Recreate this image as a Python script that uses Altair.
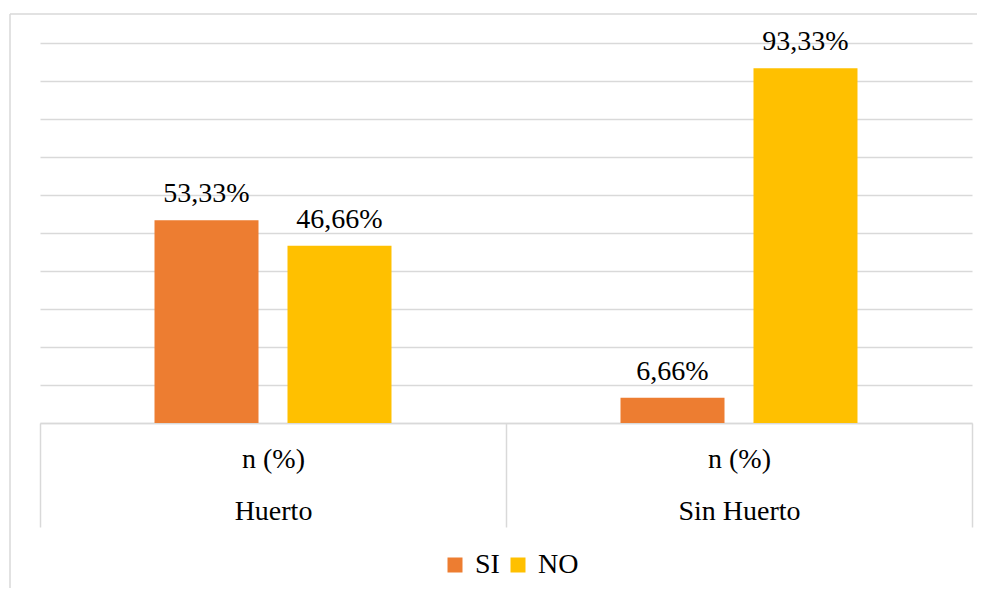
import altair as alt
import pandas as pd

groups = ["Huerto", "Huerto", "Sin Huerto", "Sin Huerto"]
series = ["SI", "NO", "SI", "NO"]
values = [53.33, 46.66, 6.66, 93.33]
labels = ["53,33%", "46,66%", "6,66%", "93,33%"]
group_order = ["Huerto", "Sin Huerto"]
series_order = ["SI", "NO"]
series_colors = ["#ED7D31", "#FFC000"]
sub_label = "n (%)"
grid_values = [0, 10, 20, 30, 40, 50, 60, 70, 80, 90, 100]

df = pd.DataFrame({"group": groups, "series": series, "value": values, "label": labels})

FONT = "Liberation Serif"
GRID = "#D9D9D9"

x_enc = alt.X(
    "group:N",
    sort=group_order,
    scale=alt.Scale(paddingInner=0, paddingOuter=0),
    axis=alt.Axis(
        title=None,
        labelAngle=0,
        tickBand="extent",
        tickSize=104,
        tickColor=GRID,
        tickWidth=1.5,
        domainColor=GRID,
        domainWidth=1.5,
        labelExpr='datum.label ? ["' + sub_label + '", datum.label] : ""',
        labelFont=FONT,
        labelFontSize=28,
        labelColor="black",
        labelLineHeight=52,
        labelPadding=-82,
        labelBaseline="top",
    ),
)
xoff_enc = alt.XOffset(
    "series:N", sort=series_order,
    scale=alt.Scale(paddingInner=0.218, paddingOuter=0.861),
)
y_enc = alt.Y(
    "value:Q",
    scale=alt.Scale(domain=[0, 100], nice=False),
    axis=alt.Axis(values=grid_values, labels=False, ticks=False, domain=False,
                  title=None, gridColor=GRID, gridWidth=1.5),
)

bars = alt.Chart(df).mark_bar().encode(
    x=x_enc,
    xOffset=xoff_enc,
    y=y_enc,
    color=alt.Color(
        "series:N",
        sort=series_order,
        scale=alt.Scale(domain=series_order, range=series_colors),
        legend=alt.Legend(
            title=None,
            orient="none",
            legendX=401,
            legendY=508,
            direction="horizontal",
            symbolType="square",
            symbolSize=225,
            symbolStrokeWidth=0,
            labelFont=FONT,
            labelFontSize=28,
            labelColor="black",
            labelOffset=6,
            columnPadding=4,
            padding=0,
        ),
    ),
)

text = alt.Chart(df).mark_text(
    baseline="alphabetic", dy=-18, font=FONT, fontSize=28, color="black"
).encode(
    x=x_enc,
    xOffset=xoff_enc,
    y=y_enc,
    text="label:N",
)

one = pd.DataFrame({"a": [0]})
top_border = alt.Chart(one).mark_rule(color=GRID, strokeWidth=1.5).encode(
    x=alt.value(-30), x2=alt.value(960), y=alt.value(-29)
)
left_border = alt.Chart(one).mark_rule(color=GRID, strokeWidth=1.5).encode(
    x=alt.value(-30), y=alt.value(-29), y2=alt.value(560)
)

chart = alt.layer(bars, text, top_border, left_border).properties(
    width=932,
    height=380,
    padding={"left": 32, "top": 35, "right": 5, "bottom": 165},
    autosize=alt.AutoSizeParams(type="none"),
).configure(font=FONT).configure_view(stroke="transparent").configure_text(
    font=FONT
).configure_legend(labelFont=FONT)

chart.save("out.html", embed_options={"renderer": "svg", "actions": False})
